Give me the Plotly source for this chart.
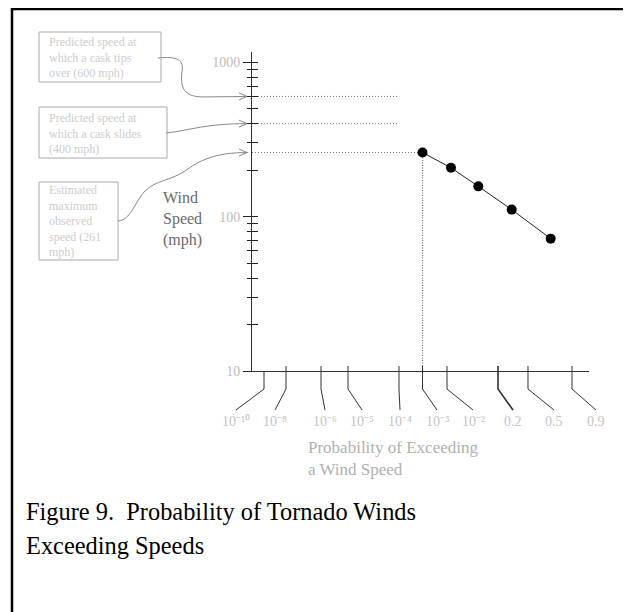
import math
import plotly.graph_objects as go

# ---------------- data ----------------
speed_major = [10, 100, 1000]
speed_major_text = ["10", "100", "1000"]
speed_minor = [20, 30, 40, 50, 60, 70, 80, 90,
               200, 300, 400, 500, 600, 700, 800, 900]

# probability scale (nonlinear hand-drawn scale, expressed in scale units)
prob_labels = ["10⁻¹⁰", "10⁻⁸", "10⁻⁶", "10⁻⁵", "10⁻⁴", "10⁻³", "10⁻²", "0.2", "0.5", "0.9"]
prob_tick_pos = [1.2, 3.4, 6.9, 9.6, 14.7, 17.05, 19.5, 24.6, 27.6, 32.0]
prob_label_pos = [-1.6, 2.3, 7.3, 11.0, 14.8, 18.5, 22.1, 26.1, 30.2, 34.4]

point_pos = [17.05, 19.9, 22.63, 25.97, 29.87]
point_speed = [260, 207, 157, 111, 72]

ref_speeds = [600, 400, 260]
ref_ends = [14.6, 14.6, 17.05]

box_texts = [
    ["Predicted speed at", "which a cask tips", "over (600 mph)"],
    ["Predicted speed at", "which a cask slides", "(400 mph)"],
    ["Estimated", "maximum", "observed", "speed (261", "mph)"],
]

# ---------------- geometry (reference page pixels) ----------------
PAGE_OFF = 8              # default body margin of the html page
W, H = 631 - PAGE_OFF, 612 - PAGE_OFF
L, R, T, B = 252, 589, 52, 371
X0, X1 = 0.0, 33.7
Y0, Y1 = 1.0, 1.0 + 319 / 154.4
SERIF = "Liberation Serif, Times New Roman, serif"


def ux(u):
    return L + (u - X0) / (X1 - X0) * (R - L)


def vy(v):
    return B - (math.log10(v) - Y0) / (Y1 - Y0) * (B - T)


def px(x):
    return (x - L) / (R - L)


def py(y):
    return (B - y) / (B - T)


def pt(p):
    return f"{px(p[0]):.5f},{py(p[1]):.5f}"


def path(cmds):
    parts = []
    for c, pts in cmds:
        n = 3 if c == "C" else 1
        for i in range(0, len(pts), n):
            parts.append(c + " " + " ".join(pt(p) for p in pts[i:i + n]))
    return " ".join(parts)


fig = go.Figure()

# reference dotted lines
for s, e in zip(ref_speeds, ref_ends):
    fig.add_trace(go.Scatter(x=[0, e], y=[s, s], mode="lines",
                             line=dict(color="#777", width=1, dash="1px,2px"),
                             hoverinfo="skip", showlegend=False))
fig.add_trace(go.Scatter(x=[point_pos[0], point_pos[0]], y=[point_speed[0], speed_major[0]],
                         mode="lines", line=dict(color="#777", width=1.3, dash="1px,1.5px"),
                         hoverinfo="skip", showlegend=False))

# data
fig.add_trace(go.Scatter(x=point_pos, y=point_speed, mode="lines+markers",
                         line=dict(color="#222", width=1),
                         marker=dict(color="black", size=10),
                         showlegend=False, cliponaxis=False))

# dummy for overlay axis
fig.add_trace(go.Scatter(x=[0], y=[10], mode="none", yaxis="y2",
                         hoverinfo="skip", showlegend=False))

shapes = []
ann = []

# x ticks with slanted leaders
for i, (tp, lp, lab) in enumerate(zip(prob_tick_pos, prob_label_pos, prob_labels)):
    tx = ux(tp)
    top = B if i == 0 else 366
    shapes.append(dict(type="path", xref="paper", yref="paper",
                       path=path([("M", [(tx, top)]), ("L", [(tx, 389), (ux(lp), 410)])]),
                       line=dict(color="#333", width=1.6 if lab == "0.2" else 1)))
    ann.append(dict(x=px(ux(lp)), y=py(421), xref="paper", yref="paper",
                    text=lab, showarrow=False, xanchor="center", yanchor="middle",
                    font=dict(family=SERIF, size=14, color="#c4c4c4")))

# annotation boxes
boxes = [(39, 32, 161, 82), (39, 107, 167, 158), (39, 182, 118, 260)]
for (x0, y0, x1, y1), lines in zip(boxes, box_texts):
    shapes.append(dict(type="rect", xref="paper", yref="paper",
                       x0=px(x0), x1=px(x1), y0=py(y0), y1=py(y1),
                       line=dict(color="#aaa", width=1)))
    ann.append(dict(x=px(47), y=py((y0 + y1) / 2 + 0.5), xref="paper", yref="paper",
                    text="<br>".join(lines), showarrow=False, xanchor="left",
                    yanchor="middle", align="left",
                    font=dict(family=SERIF, size=12, color="#cdcdcd")))

# curved connectors with open arrow heads
y600, y400, y260 = vy(ref_speeds[0]), vy(ref_speeds[1]), vy(ref_speeds[2])
connectors = [
    [("M", [(158, 58)]), ("C", [(178, 56), (184, 60), (182, 72)]),
     ("C", [(180, 88), (184, y600 + 1), (205, y600 + 0.5)]), ("L", [(247, y600)])],
    [("M", [(166, 133)]), ("C", [(192, 130), (205, y400), (247, y400)])],
    [("M", [(118, 221)]), ("C", [(131, 220), (134, 203), (145, 191)]),
     ("C", [(156, 180), (170, 181), (185, 171)]),
     ("C", [(200, 160), (215, y260), (248, y260)])],
]
for c, yt in zip(connectors, [y600, y400, y260]):
    shapes.append(dict(type="path", xref="paper", yref="paper", path=path(c),
                       line=dict(color="#888", width=1)))
    shapes.append(dict(type="path", xref="paper", yref="paper",
                       path=path([("M", [(239, yt - 3.5)]), ("L", [(247, yt), (239, yt + 3.5)])]),
                       line=dict(color="#888", width=1)))

# axis titles
ann.append(dict(x=px(161), y=py(218.5), xref="paper", yref="paper",
                text="Wind<br>Speed<br>(mph)", showarrow=False, xanchor="left",
                yanchor="middle", align="left",
                font=dict(family=SERIF, size=16, color="#6a6a6a")))
ann.append(dict(x=px(306), y=py(458), xref="paper", yref="paper",
                text="Probability of Exceeding<br>a Wind Speed", showarrow=False,
                xanchor="left", yanchor="middle", align="left",
                font=dict(family=SERIF, size=17, color="#b0b0b0")))

# caption
for k, t in enumerate(["Figure 9.\u00a0 Probability of Tornado Winds", "Exceeding Speeds"]):
    ann.append(dict(x=px(24), y=py(511 + 34.5 * k), xref="paper", yref="paper",
                    text=t, showarrow=False, xanchor="left", yanchor="middle",
                    font=dict(family=SERIF, size=24.4, color="black")))

# outer frame (left and top edges visible; right/bottom lie beyond the picture)
shapes.append(dict(type="path", xref="paper", yref="paper",
                   path=path([("M", [(12, 640)]), ("L", [(12, 9), (660, 9)])]),
                   line=dict(color="black", width=2.5)))

fig.update_layout(
    width=W, height=H,
    margin=dict(l=L - PAGE_OFF, r=PAGE_OFF + W - R, t=T - PAGE_OFF,
                b=PAGE_OFF + H - B, pad=0),
    paper_bgcolor="white", plot_bgcolor="white",
    showlegend=False,
    xaxis=dict(range=[X0, X1], showgrid=False, zeroline=False, showline=True,
               linecolor="#333", linewidth=1, ticks="", showticklabels=False,
               fixedrange=True),
    yaxis=dict(type="log", range=[Y0, Y1], showgrid=False, zeroline=False,
               showline=True, linecolor="#333", linewidth=1,
               tickmode="array", tickvals=speed_major, ticktext=speed_major_text,
               ticks="outside", ticklen=8, tickcolor="#222", tickwidth=1,
               tickfont=dict(family=SERIF, size=14, color="#bdbdbd"),
               minor=dict(tickvals=speed_minor, ticks="outside", ticklen=4,
                          tickcolor="#222", tickwidth=1, showgrid=False),
               fixedrange=True),
    yaxis2=dict(type="log", range=[Y0, Y1], overlaying="y", anchor="x", side="left",
                showgrid=False, zeroline=False, showline=False,
                tickmode="array", tickvals=speed_major + speed_minor,
                ticks="inside", ticklen=6, tickcolor="#222", tickwidth=1,
                showticklabels=False, fixedrange=True),
    shapes=shapes,
    annotations=ann,
)

fig.write_html("out.html")
